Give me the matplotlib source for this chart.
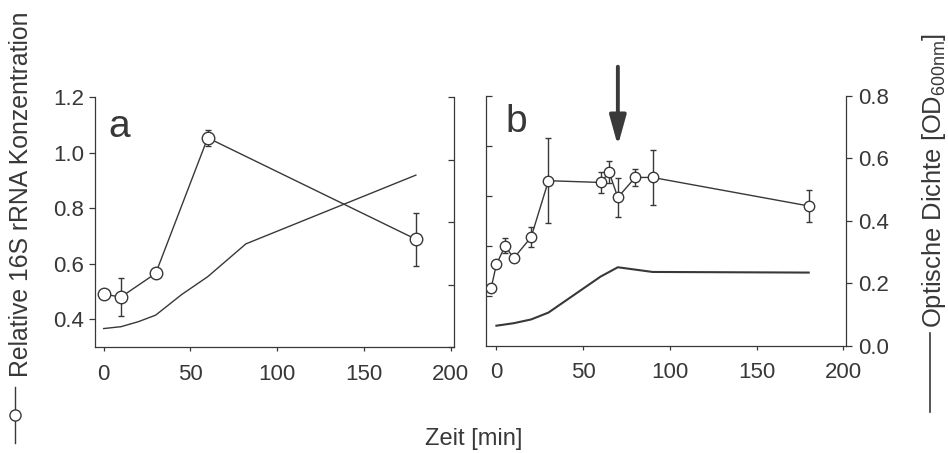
import numpy as np
import matplotlib
matplotlib.use('Agg')
import matplotlib.pyplot as plt
from matplotlib.lines import Line2D

plt.rcParams['font.family'] = ['Liberation Sans', 'DejaVu Sans']
plt.rcParams['mathtext.fontset'] = 'custom'
plt.rcParams['mathtext.rm'] = 'Liberation Sans'
plt.rcParams['mathtext.it'] = 'Liberation Sans:italic'

# panel a - rRNA (circles)
time_a = [0, 10, 30, 60, 180]
rrna_a = [0.49, 0.48, 0.565, 1.053, 0.688]
rrna_a_err = [0, 0.07, 0, 0.03, 0.095]
# panel a - optical density
od_time_a = [0, 10, 20, 30, 45, 60, 82, 180]
od_a = [0.059, 0.065, 0.081, 0.102, 0.168, 0.225, 0.33, 0.55]

# panel b - rRNA (circles)
time_b = [-3, 0, 5, 10, 20, 30, 60, 65, 70, 80, 90, 180]
rrna_b = [0.432, 0.525, 0.599, 0.550, 0.634, 0.860, 0.853, 0.893, 0.793, 0.873, 0.873, 0.759]
rrna_b_err = [0, 0, 0.03, 0, 0.04, 0.17, 0.042, 0.044, 0.078, 0.035, 0.11, 0.064]
# panel b - optical density
od_time_b = [0, 10, 20, 30, 60, 70, 90, 180]
od_b = [0.064, 0.072, 0.084, 0.106, 0.221, 0.251, 0.236, 0.234]

arrow_time = 70

xticks = [0, 50, 100, 150, 200]
yticks_a = [0.4, 0.6, 0.8, 1.0, 1.2]
yticks_b = [0.4, 0.6, 0.8, 1.0, 1.2]
od_ticks = [0.0, 0.2, 0.4, 0.6, 0.8]

W, H = 948, 453
col = '#383838'
fs = 16

fig = plt.figure(figsize=(W / 100, H / 100), dpi=100)

ax_a = fig.add_axes([95 / W, 1 - 347 / H, 359 / W, 250 / H])
ax_b = fig.add_axes([486 / W, 1 - 345.7 / H, 360 / W, 250 / H])
od_ax_a = ax_a.twinx()
od_ax_b = ax_b.twinx()


def style(ax, side, tick_dir, pad):
    for s in ['left', 'right', 'bottom', 'top']:
        ax.spines[s].set_visible(False)
    ax.spines[side].set_visible(True)
    ax.spines[side].set_color(col)
    ax.spines[side].set_linewidth(0.9)
    ax.tick_params(axis='y', direction=tick_dir, length=4, width=0.9, color=col,
                   labelsize=fs, labelcolor=col, pad=pad)


def bottom_axis(ax):
    ax.spines['bottom'].set_visible(True)
    ax.spines['bottom'].set_color(col)
    ax.spines['bottom'].set_linewidth(0.9)
    ax.set_xticks(xticks)
    ax.tick_params(axis='x', direction='out', length=3, width=0.9, color=col,
                   labelsize=fs, labelcolor=col, pad=9)


# panel a
ax_a.errorbar(time_a, rrna_a, yerr=rrna_a_err, color=col, lw=1.0, marker='o', ms=9,
              mfc='white', mec=col, mew=1.0, capsize=2.5, elinewidth=1.0, zorder=3)
od_ax_a.plot(od_time_a, od_a, color=col, lw=1.0)
ax_a.set_xlim(-5, 202)
ax_a.set_ylim(0.3, 1.2)
ax_a.set_yticks(yticks_a)
ax_a.set_yticklabels(['%.1f' % v for v in yticks_a])
od_ax_a.set_ylim(0, 0.8)
od_ax_a.set_yticks(od_ticks)
od_ax_a.set_yticklabels([])
style(ax_a, 'left', 'out', 4)
style(od_ax_a, 'right', 'in', 4)
bottom_axis(ax_a)
ax_a.text(0.036, 0.84, 'a', transform=ax_a.transAxes, fontsize=28, color=col, va='baseline')

# panel b
ax_b.errorbar(time_b, rrna_b, yerr=rrna_b_err, color=col, lw=1.0, marker='o', ms=7.5,
              mfc='white', mec=col, mew=1.0, capsize=2.5, elinewidth=1.0, zorder=3)
od_ax_b.plot(od_time_b, od_b, color=col, lw=1.5)
ax_b.set_xlim(-6, 201.5)
ax_b.set_ylim(0.2, 1.2)
ax_b.set_yticks(yticks_b)
ax_b.set_yticklabels([])
od_ax_b.set_ylim(0, 0.8)
od_ax_b.set_yticks(od_ticks)
od_ax_b.set_yticklabels(['%.1f' % v for v in od_ticks])
style(ax_b, 'left', 'in', 4)
style(od_ax_b, 'right', 'out', 5)
bottom_axis(ax_b)
ax_b.text(0.053, 0.856, 'b', transform=ax_b.transAxes, fontsize=28, color=col, va='baseline')

# arrow over t = 70
ax_b.annotate('', xy=(arrow_time, 1.0), xytext=(arrow_time, 1.316),
              arrowprops=dict(arrowstyle='-|>,head_length=0.9,head_width=0.25',
                              lw=2.8, color='#3a3a3a', mutation_scale=20,
                              shrinkA=0, shrinkB=0),
              annotation_clip=False)

# axis labels
fig.text(0.5, 1 - 439 / H, 'Zeit [min]', ha='center', va='center', fontsize=17, color=col)
fig.text(21 / W, 1 - 377 / H, 'Relative 16S rRNA Konzentration', rotation=90,
         ha='center', va='bottom', fontsize=17.8, color=col)
fig.text(934 / W, 1 - 328 / H, r'Optische Dichte [OD$_{\mathrm{600nm}}$]', rotation=90,
         ha='center', va='bottom', fontsize=18.4, color=col)

# little key symbols next to the axis labels
fig.add_artist(Line2D([15 / W, 15 / W], [1 - 387 / H, 1 - 443 / H],
                      transform=fig.transFigure, color=col, lw=1.0))
fig.add_artist(Line2D([15 / W], [1 - 415 / H], transform=fig.transFigure,
                      marker='o', ms=8, mfc='white', mec=col, mew=1.0, ls='none'))
fig.add_artist(Line2D([930 / W, 930 / W], [1 - 333 / H, 1 - 412 / H],
                      transform=fig.transFigure, color=col, lw=1.2))

fig.savefig('out.png', dpi=100)
